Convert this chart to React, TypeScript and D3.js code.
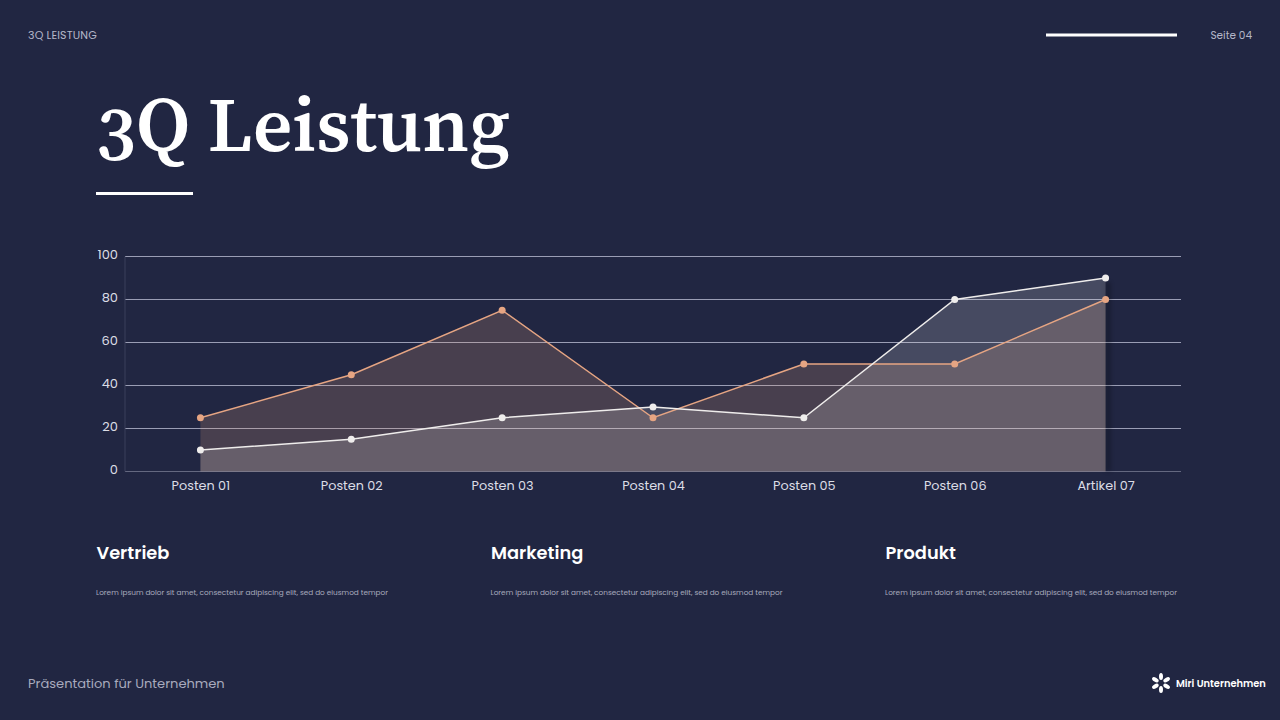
import React from "react";
import * as d3 from "d3";

const categories = ["Posten 01", "Posten 02", "Posten 03", "Posten 04", "Posten 05", "Posten 06", "Artikel 07"];
const orangeValues = [25, 45, 75, 25, 50, 50, 80];
const whiteValues = [10, 15, 25, 30, 25, 80, 90];
const yTicks = [0, 20, 40, 60, 80, 100];
const columns = ["Vertrieb", "Marketing", "Produkt"];
const columnX = [96.5, 491, 885.5];
const lorem = "Lorem ipsum dolor sit amet, consectetur adipiscing elit, sed do eiusmod tempor";

const W = 1280, H = 720;
const sans = "Poppins, Lato, 'Noto Sans', sans-serif";
const serif = "'Source Serif 4', 'Noto Serif', 'Liberation Serif', serif";
const BG = "#212642";
const ORANGE = "#E6A583";
const WHITE = "#EFEDEC";

export default function App() {
  const x = d3.scaleBand<string>().domain(categories).range([125, 1181]);
  const cx = (c: string) => x(c)! + x.bandwidth() / 2;
  const y = d3.scaleLinear().domain([0, 100]).range([471.5, 256.5]);
  const area = d3.area<number>().x((_, i) => cx(categories[i])).y0(y(0)).y1(d => y(d));
  const line = d3.line<number>().x((_, i) => cx(categories[i])).y(d => y(d));
  const logoAngles = d3.range(6).map(i => 30 + i * 60);
  const last = cx(categories[6]);
  return (
    <svg width={W} height={H} viewBox={`0 0 ${W} ${H}`} style={{ position: "fixed", left: 0, top: 0, display: "block" }}>
      <defs>
        <filter id="edge" x="-100%" y="-5%" width="400%" height="110%">
          <feGaussianBlur stdDeviation="2" />
        </filter>
      </defs>
      <rect width={W} height={H} fill={BG} />
      <text x={28} y={39} fontFamily={sans} fontSize={11} letterSpacing={0.15} fill="#B4B6C8">3Q LEISTUNG</text>
      <rect x={1046} y={33.5} width={131} height={3} fill="#fff" />
      <text x={1252} y={38.5} textAnchor="end" fontFamily={sans} fontSize={10.5} fill="#B4B6C8">Seite 04</text>

      <text x={96} y={151} fontFamily={serif} fontSize={77} fontWeight={600} fill="#fff" style={{ fontVariantNumeric: "oldstyle-nums" }}>3Q Leistung</text>
      <rect x={96} y={192} width={97} height={3} fill="#fff" />

      {yTicks.map(t => (
        <g key={t}>
          <line x1={125} x2={1181} y1={y(t)} y2={y(t)} stroke={t === 0 ? "#646880" : "#9A9DB4"} strokeWidth={1} />
          <text x={118} y={y(t) + 2.5} textAnchor="end" fontFamily={sans} fontSize={13} fill="#DCDDE6">{t}</text>
        </g>
      ))}
      <line x1={125} x2={125} y1={y(100)} y2={y(0)} stroke="#3A3F5A" />

      <rect x={last} y={y(88)} width={5} height={y(0) - y(88)} fill="#000" opacity={0.25} filter="url(#edge)" />
      <path d={area(orangeValues) ?? ""} fill={ORANGE} fillOpacity={0.2} />
      <path d={area(whiteValues) ?? ""} fill={WHITE} fillOpacity={0.18} />

      <path d={line(orangeValues) ?? ""} fill="none" stroke={ORANGE} strokeWidth={1.5} />
      <path d={line(whiteValues) ?? ""} fill="none" stroke={WHITE} strokeWidth={1.5} />
      {orangeValues.map((v, i) => <circle key={i} cx={cx(categories[i])} cy={y(v)} r={3.5} fill={ORANGE} />)}
      {whiteValues.map((v, i) => <circle key={i} cx={cx(categories[i])} cy={y(v)} r={3.5} fill={WHITE} />)}

      {categories.map(c => (
        <text key={c} x={cx(c) + 0.5} y={489.5} textAnchor="middle" fontFamily={sans} fontSize={12.8} fill="#DCDDE6">{c}</text>
      ))}

      {columns.map((c, i) => (
        <g key={c}>
          <text x={columnX[i]} y={559} fontFamily={sans} fontSize={17.8} fontWeight={600} fill="#fff">{c}</text>
          <text x={columnX[i] - 0.5} y={595} fontFamily={sans} fontSize={7.33} fill="#A8AABD">{lorem}</text>
        </g>
      ))}

      <text x={28} y={688} fontFamily={sans} fontSize={13.05} fill="#A8AABD">Präsentation für Unternehmen</text>
      <g transform="translate(1161,683)" fill="#fff">
        {logoAngles.map(a => (
          <ellipse key={a} cx={6.5} cy={0} rx={3.6} ry={2} transform={`rotate(${a})`} />
        ))}
      </g>
      <text x={1176} y={686.5} fontFamily={sans} fontSize={9.85} fontWeight={600} fill="#fff">Miri Unternehmen</text>
    </svg>
  );
}
